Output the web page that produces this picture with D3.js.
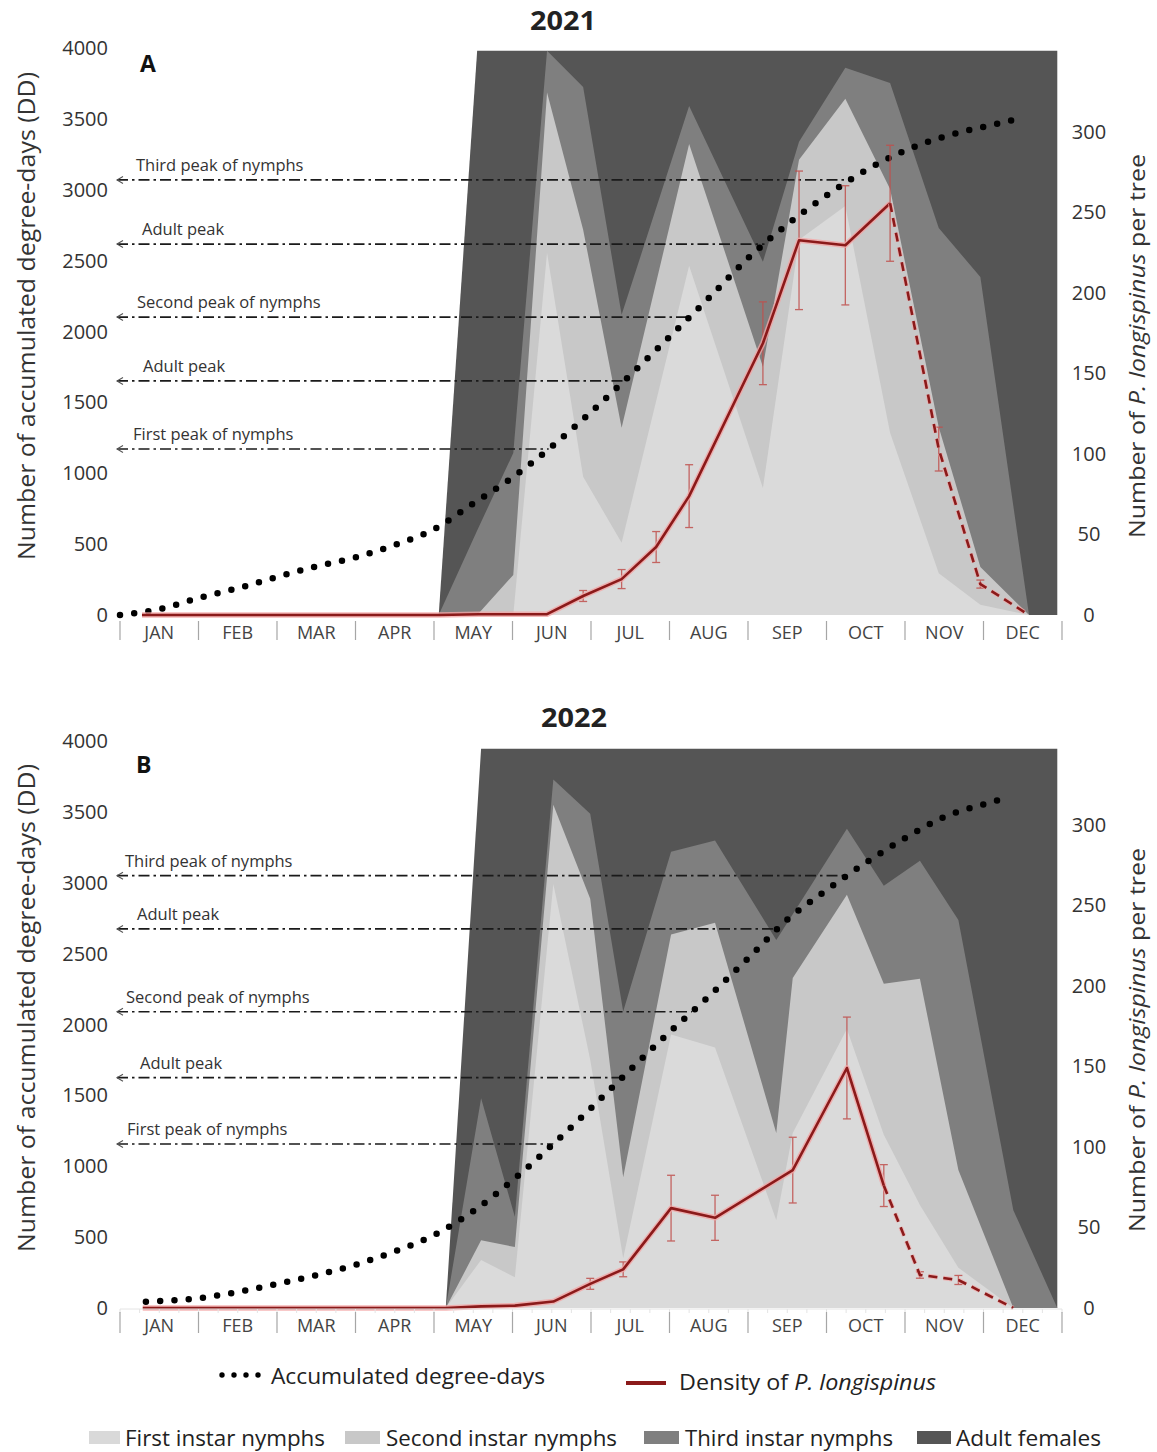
<!DOCTYPE html>
<html>
<head>
<meta charset="utf-8">
<script src="https://cdn.jsdelivr.net/npm/d3@7"></script>
<style>
  body { margin: 0; background: #fff; }
  svg { display: block; }
</style>
</head>
<body>
<svg id="chart" width="1157" height="1452"></svg>
<script>
// ---------- shared categories and ticks ----------
const months = ["JAN", "FEB", "MAR", "APR", "MAY", "JUN", "JUL", "AUG", "SEP", "OCT", "NOV", "DEC"];
const stageKeys = ["first", "second", "third", "adult"];
const stageNames = ["First instar nymphs", "Second instar nymphs", "Third instar nymphs", "Adult females"];
const ddTicks = [0, 500, 1000, 1500, 2000, 2500, 3000, 3500, 4000];
const densityTicks = [0, 50, 100, 150, 200, 250, 300];
const peakLabels = ["Third peak of nymphs", "Adult peak", "Second peak of nymphs", "Adult peak", "First peak of nymphs"];

// ---------- 2021 ----------
// sampling dates as month index (0 = 1 Jan, 12 = 31 Dec)
const stageDates2021 = [4.06, 4.55, 5.01, 5.44, 5.90, 6.39, 7.25, 8.19, 8.65, 9.24, 9.81, 10.43, 10.96, 11.58, 11.94];
// stage composition, % of individuals
const first2021  = [0, 0, 0, 64.2, 24.5, 12.8, 61.9, 22.5, 66.5, 72.5, 32.3, 7.4, 1.8, 0, 0];
const second2021 = [0, 0, 7.1, 28.4, 43.8, 20.4, 21.6, 21.5, 14.2, 19.0, 43.2, 25.9, 6.7, 0, 0];
const third2021  = [0, 15, 21.6, 7.4, 25.3, 20.0, 6.7, 18.6, 3.2, 5.5, 18.8, 35.3, 51.4, 0, 0];
const adult2021  = [0, 85, 71.3, 0, 6.4, 46.8, 9.8, 37.4, 16.1, 3.0, 5.7, 31.4, 40.1, 100, 100];

const ddDates2021 = [0, 0.5, 1, 1.5, 2, 2.5, 3, 3.5, 4, 4.5, 5, 5.5, 6, 6.5, 7, 7.5, 8, 8.5, 9, 9.5, 10, 10.5, 11, 11.5];
const dd2021 = [0, 41, 120, 189, 268, 343, 406, 494, 605, 787, 970, 1188, 1432, 1693, 1962, 2236, 2517, 2755, 2959, 3137, 3276, 3375, 3444, 3506];

const densityDates2021 = [0.28, 4.06, 4.57, 5.01, 5.44, 5.90, 6.39, 6.83, 7.25, 8.19, 8.65, 9.24, 9.81, 10.43, 10.96, 11.58];
const density2021 = [0, 0, 0.5, 0.5, 0.5, 11.8, 22.3, 42.2, 73.8, 168.7, 232.6, 229.5, 255.6, 103, 19.2, 0];
const densityErr2021 = [0, 0, 0, 0, 0, 3.4, 5.9, 9.6, 19.5, 25.7, 43, 37, 36, 13.6, 2.5, 0];
const densityLastObserved2021 = 12;   // later points are projected (dashed)

const peakDD2021 = [3069, 2617, 2102, 1651, 1171];

// ---------- 2022 ----------
const stageDates2022 = [4.15, 4.60, 5.03, 5.52, 5.99, 6.41, 7.02, 7.58, 8.36, 8.57, 9.26, 9.73, 10.19, 10.68, 11.38, 11.94];
const first2022  = [0, 8.6, 5.5, 75.8, 44.4, 8.9, 48.9, 46.6, 15.7, 31.3, 49.9, 31.0, 18.4, 7.2, 0, 0];
const second2022 = [0, 3.5, 5.4, 14.2, 28.8, 14.5, 17.9, 22.3, 15.6, 27.7, 24.0, 27.0, 40.5, 17.5, 0, 0];
const third2022  = [0, 25.4, 5.4, 4.5, 15.2, 29.6, 14.8, 14.7, 34.5, 11.4, 11.8, 17.5, 21.1, 44.7, 17.5, 0];
const adult2022  = [0, 62.5, 83.7, 5.5, 11.6, 47.0, 18.4, 16.4, 34.2, 29.6, 14.3, 24.5, 20.0, 30.6, 82.5, 100];

const ddDates2022 = [0.33, 0.5, 1, 1.5, 2, 2.5, 3, 3.5, 4, 4.5, 5, 5.5, 6, 6.5, 7, 7.5, 8, 8.5, 9, 9.5, 10, 10.5, 11, 11.33];
const dd2022 = [44, 49, 69, 113, 170, 232, 305, 400, 514, 683, 900, 1147, 1410, 1680, 1946, 2198, 2466, 2739, 2948, 3141, 3314, 3464, 3553, 3605];

const densityDates2022 = [0.29, 4.15, 4.60, 5.03, 5.52, 5.99, 6.41, 7.02, 7.58, 8.57, 9.26, 9.73, 10.19, 10.68, 11.38];
const density2022 = [0, 0, 1, 1.5, 4, 15, 24, 62, 56, 85.6, 149, 76, 20.5, 17.4, 0];
const densityErr2022 = [0, 0, 0, 0, 0, 3.4, 4.6, 20.4, 14, 20.4, 31.6, 13, 2, 2.8, 0];
const densityLastObserved2022 = 11;

const peakDD2022 = [3050, 2674, 2090, 1625, 1157];

// ---------- styling ----------
const FONT = "'Open Sans', 'Noto Sans', sans-serif";
const stageColors = { first: "#dadada", second: "#c8c8c8", third: "#7f7f7f", adult: "#555555" };
const legendColors = ["#d9d9d9", "#c8c8c8", "#7f7f7f", "#555555"];
const RED = "#8b1a1a";

const svg = d3.select("#chart");
const x = d3.scaleLinear().domain([0, 12]).range([120, 1062]);

function buildRows(dates, f, s, t, a) {
  return dates.map((d, i) => ({ date: d, first: f[i], second: s[i], third: t[i], adult: a[i] }));
}

function dateAtDD(dates, vals, v) {
  for (let i = 0; i < vals.length - 1; i++) {
    if (v >= vals[i] && v <= vals[i + 1]) {
      return dates[i] + (v - vals[i]) / (vals[i + 1] - vals[i]) * (dates[i + 1] - dates[i]);
    }
  }
  return dates[dates.length - 1];
}

function drawPanel(p) {
  const g = svg.append("g");
  const yDD = d3.scaleLinear().domain([0, 4000]).range([p.bottom, p.bottom - 567]);
  const yDen = d3.scaleLinear().domain([0, 352]).range([p.bottom, p.bottom - 567]);
  const yPct = d3.scaleLinear().domain([0, 100]).range([p.bottom, yDD(p.stageTopDD)]);

  // stacked stage composition (drawn as nested cumulative areas, largest first)
  const rows = buildRows(p.stageDates, p.first, p.second, p.third, p.adult);
  const series = d3.stack().keys(stageKeys)(rows);
  const area = d3.area()
    .x(d => x(d.data.date))
    .y0(() => yPct(0))
    .y1(d => yPct(d[1]));
  for (let k = series.length - 1; k >= 0; k--) {
    g.append("path")
      .datum(series[k])
      .attr("d", area)
      .attr("fill", stageColors[series[k].key]);
  }

  // peak reference lines (dash-dot) from the degree-day axis to the DD curve
  p.peaks.forEach((v, i) => {
    const yy = yDD(v);
    const x1 = 117;
    const x2 = x(dateAtDD(p.ddDates, p.dd, v));
    g.append("line")
      .attr("x1", x1).attr("x2", x2).attr("y1", yy).attr("y2", yy)
      .attr("stroke", "#1a1a1a").attr("stroke-width", 1.7)
      .attr("stroke-dasharray", "11 4 2.5 4");
    g.append("path")
      .attr("d", `M${x1 + 6},${yy - 3.5} L${x1},${yy} L${x1 + 6},${yy + 3.5}`)
      .attr("fill", "none").attr("stroke", "#555").attr("stroke-width", 1.1);
    g.append("text")
      .attr("x", p.peakLabelX[i]).attr("y", yy - 9)
      .attr("font-family", FONT).attr("font-size", 16.5).attr("fill", "#333")
      .text(peakLabels[i]);
  });

  // accumulated degree-days (dotted)
  const ddLine = d3.line()
    .curve(d3.curveMonotoneX)
    .x((d, i) => x(p.ddDates[i]))
    .y(d => yDD(d));
  g.append("path")
    .datum(p.dd)
    .attr("d", ddLine)
    .attr("fill", "none").attr("stroke", "#000")
    .attr("stroke-width", 6.5).attr("stroke-linecap", "round")
    .attr("stroke-dasharray", "0 14.3");

  // density of P. longispinus
  const pts = p.densityDates.map((d, i) => ({ date: d, v: p.density[i], e: p.densityErr[i] }));
  const denLine = d3.line().x(d => x(d.date)).y(d => yDen(d.v));
  const observed = pts.slice(0, p.lastObserved + 1);
  const projected = pts.slice(p.lastObserved);

  // error bars
  pts.filter(d => d.e > 0).forEach(d => {
    const cx = x(d.date);
    const eg = g.append("g").attr("stroke", "#c0504d").attr("stroke-width", 1.3).attr("opacity", 0.85);
    eg.append("line").attr("x1", cx).attr("x2", cx).attr("y1", yDen(d.v - d.e)).attr("y2", yDen(d.v + d.e));
    eg.append("line").attr("x1", cx - 4).attr("x2", cx + 4).attr("y1", yDen(d.v - d.e)).attr("y2", yDen(d.v - d.e));
    eg.append("line").attr("x1", cx - 4).attr("x2", cx + 4).attr("y1", yDen(d.v + d.e)).attr("y2", yDen(d.v + d.e));
  });

  g.append("path").datum(observed).attr("d", denLine)
    .attr("fill", "none").attr("stroke", "#f3a5a5").attr("stroke-width", 5.5)
    .attr("stroke-linejoin", "round").attr("opacity", 0.8);
  g.append("path").datum(observed).attr("d", denLine)
    .attr("fill", "none").attr("stroke", RED).attr("stroke-width", 2.6)
    .attr("stroke-linejoin", "round");
  g.append("path").datum(projected).attr("d", denLine)
    .attr("fill", "none").attr("stroke", "#f3a5a5").attr("stroke-width", 4.5)
    .attr("stroke-dasharray", "9 6").attr("opacity", 0.7);
  g.append("path").datum(projected).attr("d", denLine)
    .attr("fill", "none").attr("stroke", RED).attr("stroke-width", 2.6)
    .attr("stroke-dasharray", "9 6");

  // faint baseline with minor ticks (second panel only)
  if (p.minorTicks) {
    g.append("line").attr("x1", x(0)).attr("x2", x(12)).attr("y1", p.bottom + 1).attr("y2", p.bottom + 1)
      .attr("stroke", "#e4e4e4").attr("stroke-width", 1);
    d3.range(0, 12.01, 0.25).forEach(m => {
      g.append("line").attr("x1", x(m)).attr("x2", x(m)).attr("y1", p.bottom + 1).attr("y2", p.bottom + 5)
        .attr("stroke", "#e4e4e4").attr("stroke-width", 1);
    });
  }

  // month axis
  d3.range(0, 13).forEach(i => {
    g.append("line")
      .attr("x1", x(i)).attr("x2", x(i))
      .attr("y1", p.bottom + p.sepTop).attr("y2", p.bottom + 25)
      .attr("stroke", "#a6a6a6").attr("stroke-width", 1.2);
  });
  months.forEach((m, i) => {
    g.append("text")
      .attr("x", x(i + 0.5)).attr("y", p.bottom + 24)
      .attr("text-anchor", "middle")
      .attr("font-family", FONT).attr("font-size", 18).attr("fill", "#444")
      .text(m);
  });

  // left axis labels
  ddTicks.forEach(v => {
    g.append("text")
      .attr("x", 108).attr("y", yDD(v)).attr("dy", "0.35em")
      .attr("text-anchor", "end")
      .attr("font-family", FONT).attr("font-size", 20).attr("fill", "#333")
      .text(v);
  });
  // right axis labels
  densityTicks.forEach(v => {
    g.append("text")
      .attr("x", 1089).attr("y", yDen(v)).attr("dy", "0.35em")
      .attr("text-anchor", "middle")
      .attr("font-family", FONT).attr("font-size", 20).attr("fill", "#333")
      .text(v);
  });

  // axis titles
  g.append("text")
    .attr("transform", `translate(35,${p.leftTitleY}) rotate(-90)`)
    .attr("text-anchor", "middle")
    .attr("font-family", FONT).attr("font-size", 23).attr("fill", "#333")
    .attr("textLength", 488).attr("lengthAdjust", "spacingAndGlyphs")
    .text("Number of accumulated degree-days (DD)");
  const rt = g.append("text")
    .attr("transform", `translate(1145,${p.rightTitleY}) rotate(-90)`)
    .attr("text-anchor", "middle")
    .attr("font-family", FONT).attr("font-size", 22).attr("fill", "#333")
    .attr("textLength", 384).attr("lengthAdjust", "spacingAndGlyphs");
  rt.append("tspan").text("Number of ");
  rt.append("tspan").attr("font-style", "italic").text("P. longispinus");
  rt.append("tspan").text(" per tree");

  // year title and panel letter
  g.append("text")
    .attr("x", p.titleX).attr("y", p.titleY)
    .attr("text-anchor", "middle")
    .attr("font-family", FONT).attr("font-size", 27).attr("font-weight", "bold").attr("fill", "#222")
    .attr("textLength", 66).attr("lengthAdjust", "spacingAndGlyphs")
    .text(p.year);
  g.append("text")
    .attr("x", p.letterX).attr("y", p.letterY)
    .attr("font-family", FONT).attr("font-size", 23).attr("font-weight", "bold").attr("fill", "#111")
    .text(p.letter);
}

drawPanel({
  year: "2021", letter: "A", bottom: 615, stageTopDD: 3980,
  titleX: 563, titleY: 30, letterX: 140, letterY: 72,
  leftTitleY: 316, rightTitleY: 346, sepTop: 6, minorTicks: false,
  peakLabelX: [136, 142, 137, 143, 133],
  stageDates: stageDates2021, first: first2021, second: second2021, third: third2021, adult: adult2021,
  ddDates: ddDates2021, dd: dd2021, peaks: peakDD2021,
  densityDates: densityDates2021, density: density2021, densityErr: densityErr2021,
  lastObserved: densityLastObserved2021
});

drawPanel({
  year: "2022", letter: "B", bottom: 1308, stageTopDD: 3945,
  titleX: 574, titleY: 727, letterX: 136, letterY: 773,
  leftTitleY: 1008, rightTitleY: 1040, sepTop: 4, minorTicks: true,
  peakLabelX: [125, 137, 126, 140, 127],
  stageDates: stageDates2022, first: first2022, second: second2022, third: third2022, adult: adult2022,
  ddDates: ddDates2022, dd: dd2022, peaks: peakDD2022,
  densityDates: densityDates2022, density: density2022, densityErr: densityErr2022,
  lastObserved: densityLastObserved2022
});

// ---------- legend ----------
const lg = svg.append("g").attr("font-family", FONT).attr("fill", "#222");
d3.range(4).forEach(i => {
  lg.append("circle").attr("cx", 222 + i * 12).attr("cy", 1375).attr("r", 2.7).attr("fill", "#000");
});
lg.append("text").attr("x", 271).attr("y", 1384).attr("font-size", 21)
  .attr("textLength", 274).attr("lengthAdjust", "spacingAndGlyphs")
  .text("Accumulated degree-days");
lg.append("line").attr("x1", 626).attr("x2", 666).attr("y1", 1383).attr("y2", 1383)
  .attr("stroke", RED).attr("stroke-width", 4);
const dl = lg.append("text").attr("x", 679).attr("y", 1390).attr("font-size", 21)
  .attr("textLength", 257).attr("lengthAdjust", "spacingAndGlyphs");
dl.append("tspan").text("Density of ");
dl.append("tspan").attr("font-style", "italic").text("P. longispinus");

const swatchX = [89, 345, 644, 917];
const swatchW = [31, 35, 35, 34];
const labelX = [125, 386, 685, 956];
const labelW = [200, 231, 208, 145];
stageNames.forEach((name, i) => {
  lg.append("rect").attr("x", swatchX[i]).attr("y", 1431).attr("width", swatchW[i]).attr("height", 13)
    .attr("fill", legendColors[i]);
  lg.append("text").attr("x", labelX[i]).attr("y", 1446).attr("font-size", 22)
    .attr("textLength", labelW[i]).attr("lengthAdjust", "spacingAndGlyphs")
    .text(name);
});
</script>
</body>
</html>
